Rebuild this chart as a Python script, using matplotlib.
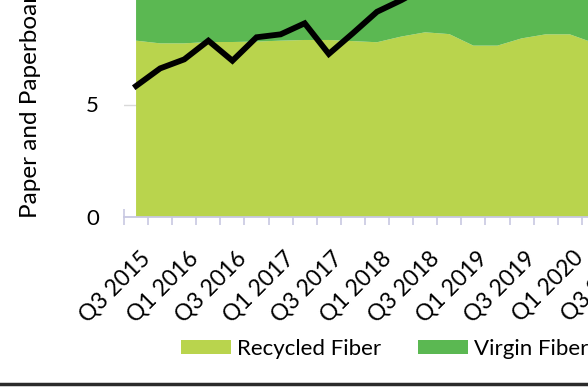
import matplotlib
matplotlib.use("Agg")
import matplotlib.pyplot as plt
import matplotlib.transforms as mtransforms
from matplotlib.lines import Line2D
import numpy as np

plt.rcParams["font.family"] = ["Lato", "DejaVu Sans"]

# %%
# Data (quarterly, million tons)
quarters = ["Q3 2015", "Q4 2015", "Q1 2016", "Q2 2016", "Q3 2016", "Q4 2016",
            "Q1 2017", "Q2 2017", "Q3 2017", "Q4 2017", "Q1 2018", "Q2 2018",
            "Q3 2018", "Q4 2018", "Q1 2019", "Q2 2019", "Q3 2019", "Q4 2019",
            "Q1 2020", "Q2 2020", "Q3 2020"]
recycled = [7.83, 7.71, 7.71, 7.77, 7.77, 7.79, 7.83, 7.86, 7.86, 7.81, 7.76,
            8.01, 8.20, 8.12, 7.61, 7.61, 7.93, 8.11, 8.11, 7.73, 7.70]
virgin = [6.3, 6.2, 6.4, 6.3, 6.2, 6.4, 6.3, 6.5, 6.4, 6.3, 6.4,
          6.5, 6.4, 6.3, 6.5, 6.4, 6.3, 6.4, 6.5, 6.4, 6.3]
production = [5.82, 6.60, 7.00, 7.83, 6.94, 7.98, 8.11, 8.60, 7.24, 8.16, 9.11,
              9.62, 10.2, 10.05, 9.72, 10.3, 10.4, 10.6, 10.5, 10.8, 11.0]

series_names = ["Recycled Fiber", "Virgin Fiber", "Total Production"]
light_green = "#B9D44D"
dark_green = "#5BB852"
axis_col = "#C8C8E2"

# %%
fig = plt.figure(figsize=(5.88, 3.87), dpi=100)
ax = fig.add_axes([124 / 588, 1 - 217.3 / 387, 506 / 588, 217.3 / 387])

x = np.arange(len(quarters))
ax.stackplot(x, recycled, virgin, colors=[light_green, dark_green],
             labels=series_names[:2], zorder=2)
ax.plot(x, production, color="black", lw=4.2, solid_joinstyle="miter",
        label=series_names[2], zorder=3)

ax.set_xlim(-0.5, len(quarters) - 0.5)
ax.set_ylim(0, 217.3 / 22.56)
ax.set_yticks([0, 5])
ax.set_yticklabels(["0", "5"], fontsize=16)
ax.tick_params(axis="y", length=0, pad=18)
ax.yaxis.grid(True, color="#D9D9D9", lw=1, zorder=0)
ax.set_axisbelow(True)

for s in ["top", "right", "left"]:
    ax.spines[s].set_visible(False)
ax.spines["bottom"].set_color(axis_col)
ax.spines["bottom"].set_linewidth(1.3)
ax.spines["bottom"].set_zorder(4)

ax.set_xticks(x[::2])
ax.set_xticklabels(quarters[::2], fontsize=16.5, rotation=45, ha="right",
                   va="top", rotation_mode="anchor")
ax.set_xticks(np.arange(len(quarters) + 1) - 0.5, minor=True)
ax.tick_params(axis="x", which="major", length=0, pad=21.5)
ax.tick_params(axis="x", which="minor", direction="inout", length=11,
               width=1.2, color=axis_col)
shift = mtransforms.ScaledTranslation(0.03, 0, fig.dpi_scale_trans)
for lab in ax.get_xticklabels():
    lab.set_transform(lab.get_transform() + shift)

fig.text(30 / 588, 1 - 218 / 387,
         "Paper and Paperboard Production (Million Tons)",
         rotation=90, ha="center", va="bottom", fontsize=17.5)

fig.legend(loc="center left", bbox_to_anchor=(181 / 588, 1 - 349 / 387),
           ncol=3, frameon=False, fontsize=16, borderpad=0, borderaxespad=0,
           handlelength=2.25, handleheight=0.63, handletextpad=0.27,
           columnspacing=1.67)

fig.add_artist(Line2D([0, 1], [1 - 383.5 / 387] * 2, color="#2B2B2B", lw=2.5,
                      transform=fig.transFigure))

fig.savefig("out.png", dpi=100)
